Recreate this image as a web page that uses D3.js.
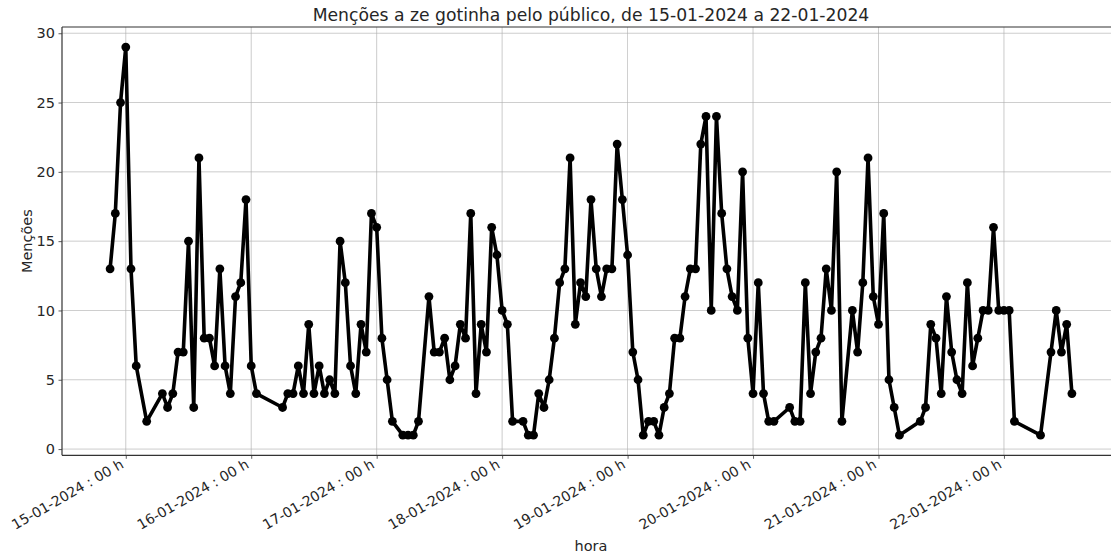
<!DOCTYPE html>
<html>
<head>
<meta charset="utf-8">
<script src="https://cdn.jsdelivr.net/npm/d3@7"></script>
<style>
  html, body { margin: 0; padding: 0; background: #fff; }
  text { font-family: "DejaVu Sans", sans-serif; fill: #262626; }
</style>
</head>
<body>
<svg id="chart" width="1111" height="556"></svg>
<script>
// ---- data (hourly counts, gaps where no hour was recorded) ----
const timestamps = [
  "2024-01-14 21","2024-01-14 22","2024-01-14 23",
  "2024-01-15 00","2024-01-15 01","2024-01-15 02","2024-01-15 04","2024-01-15 07","2024-01-15 08","2024-01-15 09","2024-01-15 10","2024-01-15 11","2024-01-15 12","2024-01-15 13","2024-01-15 14","2024-01-15 15","2024-01-15 16","2024-01-15 17","2024-01-15 18","2024-01-15 19","2024-01-15 20","2024-01-15 21","2024-01-15 22","2024-01-15 23",
  "2024-01-16 00","2024-01-16 01","2024-01-16 06","2024-01-16 07","2024-01-16 08","2024-01-16 09","2024-01-16 10","2024-01-16 11","2024-01-16 12","2024-01-16 13","2024-01-16 14","2024-01-16 15","2024-01-16 16","2024-01-16 17","2024-01-16 18","2024-01-16 19","2024-01-16 20","2024-01-16 21","2024-01-16 22","2024-01-16 23",
  "2024-01-17 00","2024-01-17 01","2024-01-17 02","2024-01-17 03","2024-01-17 05","2024-01-17 06","2024-01-17 07","2024-01-17 08","2024-01-17 10","2024-01-17 11","2024-01-17 12","2024-01-17 13","2024-01-17 14","2024-01-17 15","2024-01-17 16","2024-01-17 17","2024-01-17 18","2024-01-17 19","2024-01-17 20","2024-01-17 21","2024-01-17 22","2024-01-17 23",
  "2024-01-18 00","2024-01-18 01","2024-01-18 02","2024-01-18 04","2024-01-18 05","2024-01-18 06","2024-01-18 07","2024-01-18 08","2024-01-18 09","2024-01-18 10","2024-01-18 11","2024-01-18 12","2024-01-18 13","2024-01-18 14","2024-01-18 15","2024-01-18 16","2024-01-18 17","2024-01-18 18","2024-01-18 19","2024-01-18 20","2024-01-18 21","2024-01-18 22","2024-01-18 23",
  "2024-01-19 00","2024-01-19 01","2024-01-19 02","2024-01-19 03","2024-01-19 04","2024-01-19 05","2024-01-19 06","2024-01-19 07","2024-01-19 08","2024-01-19 09","2024-01-19 10","2024-01-19 11","2024-01-19 12","2024-01-19 13","2024-01-19 14","2024-01-19 15","2024-01-19 16","2024-01-19 17","2024-01-19 18","2024-01-19 19","2024-01-19 20","2024-01-19 21","2024-01-19 22","2024-01-19 23",
  "2024-01-20 00","2024-01-20 01","2024-01-20 02","2024-01-20 03","2024-01-20 04","2024-01-20 07","2024-01-20 08","2024-01-20 09","2024-01-20 10","2024-01-20 11","2024-01-20 12","2024-01-20 13","2024-01-20 14","2024-01-20 15","2024-01-20 16","2024-01-20 17","2024-01-20 19","2024-01-20 20","2024-01-20 21","2024-01-20 22","2024-01-20 23",
  "2024-01-21 00","2024-01-21 01","2024-01-21 02","2024-01-21 03","2024-01-21 04","2024-01-21 08","2024-01-21 09","2024-01-21 10","2024-01-21 11","2024-01-21 12","2024-01-21 13","2024-01-21 14","2024-01-21 15","2024-01-21 16","2024-01-21 17","2024-01-21 18","2024-01-21 19","2024-01-21 20","2024-01-21 21","2024-01-21 22","2024-01-21 23",
  "2024-01-22 00","2024-01-22 01","2024-01-22 02","2024-01-22 07","2024-01-22 09","2024-01-22 10","2024-01-22 11","2024-01-22 12","2024-01-22 13"
];
const mentions = [
  13,17,25,
  29,13,6,2,4,3,4,7,7,15,3,21,8,8,6,13,6,4,11,12,18,
  6,4,3,4,4,6,4,9,4,6,4,5,4,15,12,6,4,9,7,17,
  16,8,5,2,1,1,1,2,11,7,7,8,5,6,9,8,17,4,9,7,16,14,
  10,9,2,2,1,1,4,3,5,8,12,13,21,9,12,11,18,13,11,13,13,22,18,
  14,7,5,1,2,2,1,3,4,8,8,11,13,13,22,24,10,24,17,13,11,10,20,8,
  4,12,4,2,2,3,2,2,12,4,7,8,13,10,20,2,10,7,12,21,11,
  9,17,5,3,1,2,3,9,8,4,11,7,5,4,12,6,8,10,10,16,10,
  10,10,2,1,7,10,7,9,4
];
const tickDates = ["2024-01-15","2024-01-16","2024-01-17","2024-01-18","2024-01-19","2024-01-20","2024-01-21","2024-01-22"];
const yTicks = [0,5,10,15,20,25,30];
const title = "Menções a ze gotinha pelo público, de 15-01-2024 a 22-01-2024";
const xLabel = "hora";
const yLabel = "Menções";

// ---- layout ----
const plot = { left: 62, top: 27, right: 1120, bottom: 455.3 };
const parseHour = d3.utcParse("%Y-%m-%d %H");
const parseDay = d3.utcParse("%Y-%m-%d");
const data = timestamps.map((t, i) => ({ t: parseHour(t), v: mentions[i] }));

const tExtent = d3.extent(data, d => d.t);
const span = tExtent[1] - tExtent[0];
const x = d3.scaleUtc()
  .domain([new Date(+tExtent[0] - span * 0.05), new Date(+tExtent[1] + span * 0.05)])
  .range([plot.left, plot.right]);
const y = d3.scaleLinear().domain([-0.45, 30.45]).range([plot.bottom, plot.top]);

const svg = d3.select("#chart");
const fmt = d3.utcFormat("%d-%m-%Y : %H h");
const xTickVals = tickDates.map(parseDay);

// grid
const grid = svg.append("g");
grid.selectAll(".vg").data(xTickVals).join("line")
  .attr("x1", d => x(d)).attr("x2", d => x(d))
  .attr("y1", plot.top).attr("y2", plot.bottom)
  .attr("stroke", "#b0b0b0").attr("stroke-width", 0.8).attr("opacity", 0.8);
grid.selectAll(".hg").data(yTicks).join("line")
  .attr("x1", plot.left).attr("x2", plot.right)
  .attr("y1", d => y(d)).attr("y2", d => y(d))
  .attr("stroke", "#b0b0b0").attr("stroke-width", 0.8).attr("opacity", 0.8);

// line + markers
const line = d3.line().x(d => x(d.t)).y(d => y(d.v));
svg.append("path").datum(data)
  .attr("d", line).attr("fill", "none")
  .attr("stroke", "#000").attr("stroke-width", 3.6)
  .attr("stroke-linejoin", "round").attr("stroke-linecap", "square");
svg.append("g").selectAll("circle").data(data).join("circle")
  .attr("cx", d => x(d.t)).attr("cy", d => y(d.v)).attr("r", 4.4).attr("fill", "#000");

// frame (left, top, bottom; right edge is outside the picture)
const frame = svg.append("g").attr("stroke", "#333").attr("stroke-width", 1.2).attr("fill", "none");
frame.append("line").attr("x1", plot.left).attr("x2", plot.left).attr("y1", plot.top).attr("y2", plot.bottom);
frame.append("line").attr("x1", plot.left).attr("x2", plot.right).attr("y1", plot.top).attr("y2", plot.top);
frame.append("line").attr("x1", plot.left).attr("x2", plot.right).attr("y1", plot.bottom).attr("y2", plot.bottom);

// y axis
const yAxis = d3.axisLeft(y).tickValues(yTicks).tickSize(3.5).tickPadding(3.5);
const gy = svg.append("g").attr("transform", `translate(${plot.left},0)`).call(yAxis);
gy.select(".domain").remove();
gy.selectAll(".tick line").attr("stroke", "#333").attr("stroke-width", 0.8);
gy.selectAll(".tick text").attr("font-size", 14.5).attr("font-family", "DejaVu Sans").attr("fill", "#262626");

// x axis
const xAxis = d3.axisBottom(x).tickValues(xTickVals).tickFormat(fmt).tickSize(3.5).tickPadding(0);
const gx = svg.append("g").attr("transform", `translate(0,${plot.bottom})`).call(xAxis);
gx.select(".domain").remove();
gx.selectAll(".tick line").attr("stroke", "#333").attr("stroke-width", 0.8);
const fs = 14, asc = fs * 0.76, desc = fs * 0.24;
gx.selectAll(".tick text")
  .attr("font-size", fs).attr("font-family", "DejaVu Sans").attr("fill", "#262626")
  .attr("text-anchor", "end").attr("dy", null).attr("y", 0)
  .attr("transform", `translate(${-desc * 0.5},${2.5 + asc * 0.866}) rotate(-30)`);

// titles
svg.append("text").attr("x", (plot.left + plot.right) / 2).attr("y", 21)
  .attr("text-anchor", "middle").attr("font-size", 17.2).text(title);
svg.append("text").attr("x", (plot.left + plot.right) / 2).attr("y", 551)
  .attr("text-anchor", "middle").attr("font-size", 14.5).text(xLabel);
svg.append("text").attr("transform", `translate(32,${(plot.top + plot.bottom) / 2}) rotate(-90)`)
  .attr("text-anchor", "middle").attr("font-size", 14.5).text(yLabel);
</script>
</body>
</html>
